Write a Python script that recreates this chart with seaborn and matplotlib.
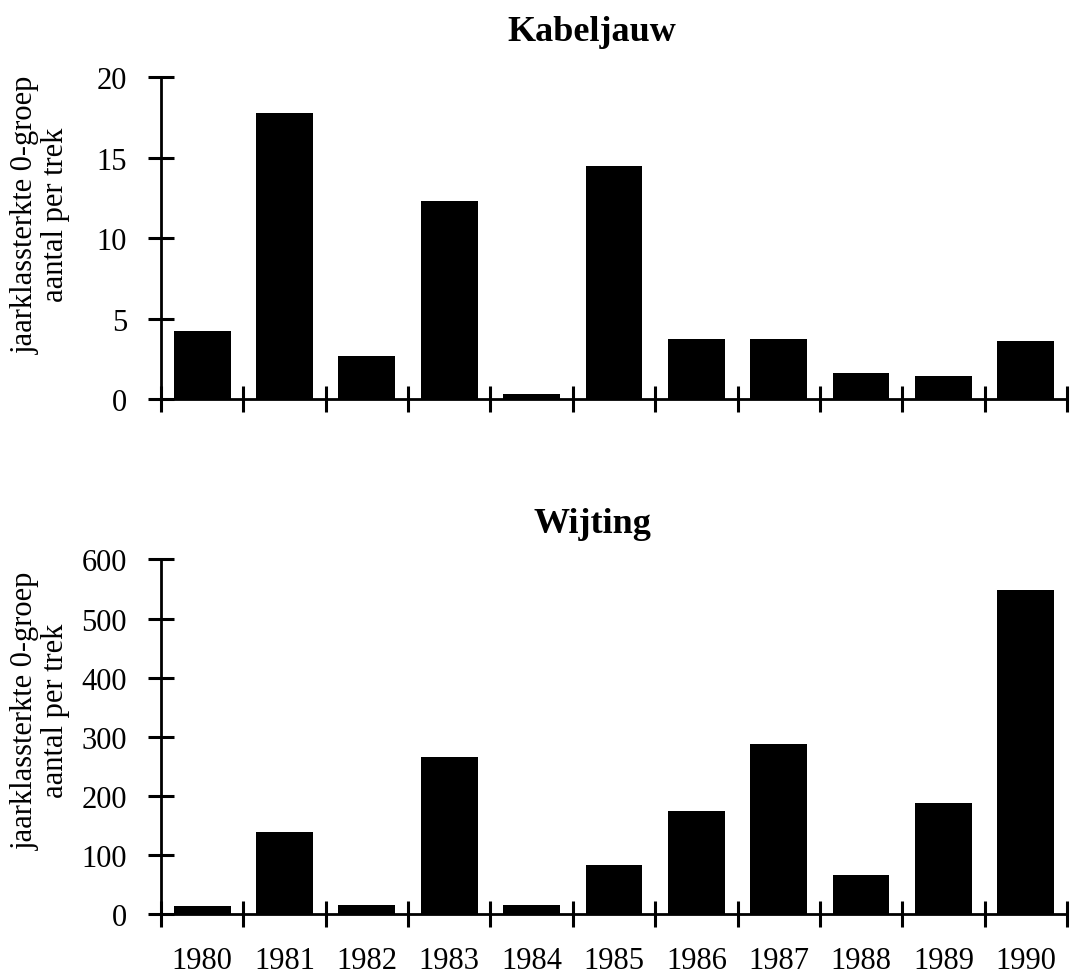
import numpy as np
import pandas as pd
import matplotlib
matplotlib.use("Agg")
import matplotlib.pyplot as plt
import seaborn as sns

years = ["1980", "1981", "1982", "1983", "1984", "1985", "1986", "1987", "1988", "1989", "1990"]
kabeljauw = [4.2, 17.8, 2.7, 12.3, 0.3, 14.5, 3.7, 3.7, 1.6, 1.4, 3.6]
wijting = [15, 140, 16, 266, 16, 84, 175, 288, 67, 189, 549]

titles = ["Kabeljauw", "Wijting"]
ylabel = "jaarklassterkte 0-groep\naantal per trek"

sns.set_style("white")
plt.rcParams["font.family"] = ["Liberation Serif", "DejaVu Serif"]
plt.rcParams["text.color"] = "black"
plt.rcParams["axes.labelcolor"] = "black"

fig = plt.figure(figsize=(10.76, 9.78), dpi=100)
ax1 = fig.add_axes([0.1496, 0.591, 0.842, 0.329])
ax2 = fig.add_axes([0.1496, 0.064, 0.842, 0.363])

panels = [
    (ax1, kabeljauw, titles[0], 20, 5, False, 27),
    (ax2, wijting, titles[1], 600, 100, True, 20),
]

for ax, vals, title, ymax, ystep, show_x, tpad in panels:
    df = pd.DataFrame({"year": years, "value": vals})
    sns.barplot(data=df, x="year", y="value", ax=ax, color="black",
                width=0.69, saturation=1, edgecolor="black", linewidth=0)
    ax.set_xlim(-0.5, len(years) - 0.5)
    ax.set_ylim(0, ymax)
    ax.set_yticks(np.arange(0, ymax + 1, ystep))
    for s in ["top", "right"]:
        ax.spines[s].set_visible(False)
    for s in ["left", "bottom"]:
        ax.spines[s].set_linewidth(2.0)
        ax.spines[s].set_color("black")
    ax.tick_params(axis="y", which="major", left=True, direction="inout", length=19, width=2.2,
                   labelsize=22, pad=15, colors="black")
    ax.set_xticks(np.arange(len(years)))
    ax.set_xticks(np.arange(-0.5, len(years), 1.0), minor=True)
    ax.tick_params(axis="x", which="minor", bottom=True, direction="inout", length=19, width=2.2,
                   color="black")
    ax.tick_params(axis="x", which="major", bottom=True, length=0, labelsize=22, pad=23,
                   labelcolor="black")
    if show_x:
        ax.set_xticklabels(years)
    else:
        ax.set_xticklabels([])
    ax.set_xlabel("")
    ax.set_ylabel(ylabel, fontsize=22, linespacing=1.05)
    ax.yaxis.set_label_coords(-0.1, 0.575)
    ax.set_title(title, fontsize=26, fontweight="bold", x=0.476, pad=tpad, color="black")
    ax.grid(False)

fig.savefig("out.png", dpi=100, facecolor="white")
